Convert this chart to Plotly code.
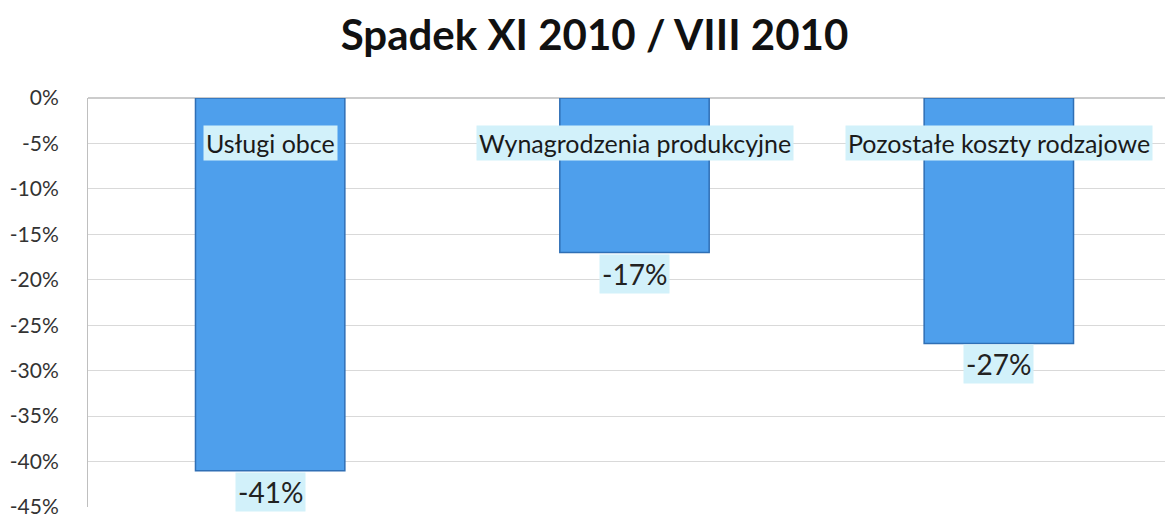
import plotly.graph_objects as go

# data
categories = ["Usługi obce", "Wynagrodzenia produkcyjne", "Pozostałe koszty rodzajowe"]
values = [-41, -17, -27]
tick_values = [0, -5, -10, -15, -20, -25, -30, -35, -40, -45]
tick_labels = [f"{v}%" for v in tick_values]

FONT = "Lato, 'Open Sans', sans-serif"
LABEL_BG = "#D2F1FA"

fig = go.Figure()

fig.add_trace(go.Bar(
    x=categories,
    y=values,
    width=0.41,
    marker=dict(color="#4E9FEC", line=dict(color="#2F6FB5", width=1.5)),
    hoverinfo="skip",
))

# category names sit inside the bars near the zero line
for cat in categories:
    fig.add_annotation(
        x=cat, y=-5, xref="x", yref="y",
        text=cat, showarrow=False,
        font=dict(family=FONT, size=25, color="#1a1a1a"),
        bgcolor=LABEL_BG, borderpad=2,
    )

# value labels under each bar
for cat, val in zip(categories, values):
    fig.add_annotation(
        x=cat, y=val, xref="x", yref="y",
        text=f"{val}%", showarrow=False, yshift=-21,
        font=dict(family=FONT, size=28, color="#222"),
        bgcolor=LABEL_BG, borderpad=2,
    )

fig.update_layout(
    width=1173, height=517,
    title=dict(
        text="<b>Spadek XI 2010 / VIII 2010</b>",
        x=0.5, xanchor="center", y=0.975, yanchor="top",
        font=dict(family=FONT, size=42, color="#111"),
    ),
    plot_bgcolor="white", paper_bgcolor="white",
    margin=dict(l=80, r=0, t=90, b=18),
    showlegend=False,
)

fig.update_xaxes(
    showticklabels=False, showgrid=False, zeroline=False,
    range=[-0.5, 2.5],
)
fig.update_yaxes(
    range=[-45, 0],
    tickvals=tick_values, ticktext=tick_labels,
    tickfont=dict(family=FONT, size=21, color="#333"),
    showgrid=True, gridcolor="#D9D9D9", gridwidth=1,
    zeroline=True, zerolinecolor="#CCCCCC",
    showline=True, linecolor="#BFBFBF",
    ticks="", ticklabelstandoff=24,
)

fig.write_html("out.html")
